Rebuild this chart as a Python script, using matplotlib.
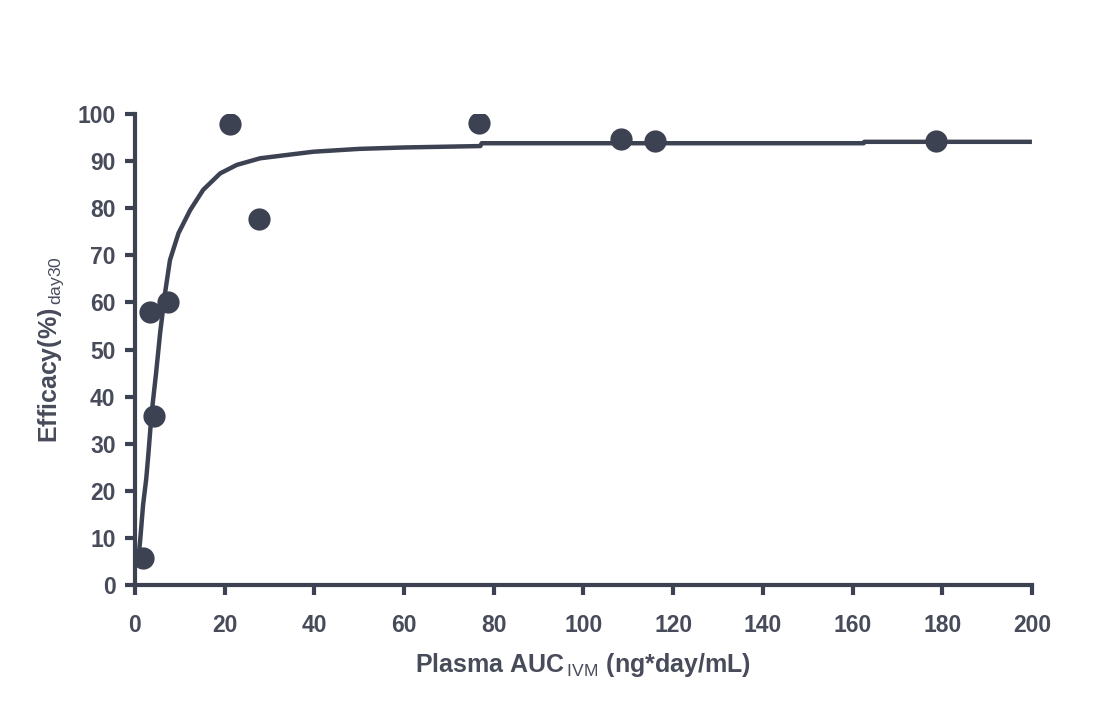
import matplotlib
matplotlib.use("Agg")
import matplotlib.pyplot as plt

# observed points (plasma AUC vs efficacy at day 30)
auc_obs = [1.8, 3.3, 4.2, 7.4, 21.2, 27.6, 76.8, 108.4, 116.0, 178.6]
eff_obs = [5.7, 58.0, 35.9, 60.0, 97.8, 77.7, 98.2, 94.7, 94.3, 94.3]

# fitted curve
auc_fit = [0.8, 1.2, 1.8, 2.5, 3.0, 3.7, 4.7, 5.6, 6.7, 7.8, 9.7, 12.3, 15.2,
           19.0, 22.7, 27.9, 33.8, 39.8, 50.0, 60.0, 77.0, 77.3, 120.0, 162.5,
           162.6, 200.0]
eff_fit = [6.0, 10.0, 17.0, 22.5, 28.0, 36.4, 45.0, 53.5, 62.0, 69.0, 74.7,
           79.6, 83.9, 87.4, 89.2, 90.6, 91.3, 92.0, 92.6, 92.9, 93.2, 93.8,
           93.8, 93.8, 94.1, 94.1]

x_ticks = list(range(0, 201, 20))
y_ticks = list(range(0, 101, 10))

INK = "#3d4253"
TXT = "#474b5a"

plt.rcParams["font.family"] = ["Liberation Sans", "DejaVu Sans"]
plt.rcParams["font.weight"] = "bold"
plt.rcParams["mathtext.fontset"] = "custom"
plt.rcParams["mathtext.rm"] = "Liberation Sans:normal"
plt.rcParams["mathtext.bf"] = "Liberation Sans:bold"

fig = plt.figure(figsize=(11.12, 7.10), dpi=100)
ax = fig.add_axes([0.1214, 0.176, 0.8066, 0.6634])

ax.plot(auc_fit, eff_fit, color=INK, lw=3.2, solid_capstyle="butt", zorder=2)
ax.plot(auc_obs, eff_obs, "o", color=INK, ms=16, mec="none", zorder=3)

ax.set_xlim(0, 200)
ax.set_ylim(0, 100)
ax.set_xticks(x_ticks)
ax.set_yticks(y_ticks)

for s in ("top", "right"):
    ax.spines[s].set_visible(False)
for s in ("left", "bottom"):
    ax.spines[s].set_linewidth(3)
    ax.spines[s].set_color(INK)

ax.tick_params(axis="both", direction="out", length=7, width=3, color=INK,
               labelcolor=TXT, labelsize=16.5)
ax.tick_params(axis="x", pad=14)
ax.tick_params(axis="y", pad=7)

ax.set_xlabel(r"Plasma AUC$_{\mathrm{\,IVM}}$ (ng*day/mL)", fontsize=18,
              color=TXT, fontweight="bold", labelpad=10)
ax.set_ylabel(r"Efficacy(%)$_{\mathrm{\,day30}}$", fontsize=18,
              color=TXT, fontweight="bold", labelpad=8)

fig.savefig("out.png", dpi=100, facecolor="white")
